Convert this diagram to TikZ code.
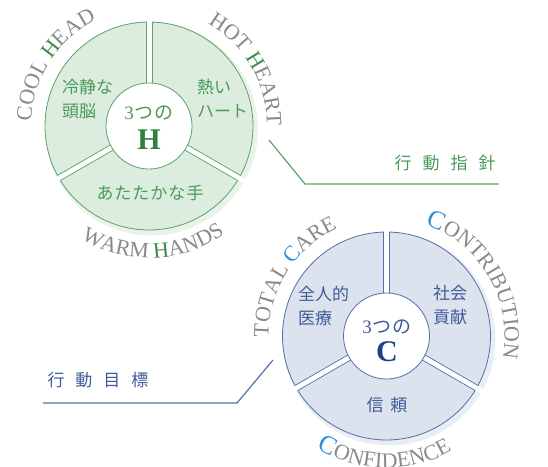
\documentclass[tikz,border=0pt]{standalone}
\usepackage{fontspec}
\setmainfont{Liberation Serif}
\newfontfamily\jp{Noto Sans CJK JP}
\usetikzlibrary{decorations.text,calc}
\definecolor{lgray}{HTML}{8A8A8A}
\definecolor{hgreen}{HTML}{3D8B4D}
\definecolor{gtxt}{HTML}{4A9A5A}
\definecolor{gfill}{HTML}{DCECDF}
\definecolor{gshadow}{HTML}{E9F3EB}
\definecolor{gline}{HTML}{5AA36A}
\definecolor{hbig}{HTML}{2F7F3F}
\definecolor{bfill}{HTML}{DDE3EE}
\definecolor{bshadow}{HTML}{E9EDF4}
\definecolor{bline}{HTML}{5470AA}
\definecolor{btxt}{HTML}{3E5C98}
\definecolor{cbig}{HTML}{1E428A}
\definecolor{ccyan}{HTML}{2A8FD8}
\newcommand\tgray{\fontsize{22}{22}\selectfont\color{lgray}}
\newcommand\tgreen{\fontsize{22}{22}\selectfont\color{hgreen}}
\newcommand\tcyan{\fontsize{22}{22}\selectfont\color{ccyan}}
\newcommand\tcyanbig{\fontsize{26}{26}\selectfont\color{ccyan}}
\newcommand\myring[4]{%
  \fill[#3] ($(#1)+(2.5,-3)$) circle (106.5);
  \fill[#2,draw=#4,line width=0.8] (#1) circle (104);
  \foreach \a in {90,210,330}{
    \begin{scope}[shift={(#1)},rotate=\a]
      \fill[white] (30,-2.5) rectangle (116,2.5);
      \draw[#4,line width=0.7] (40,2.9)--(103.95,2.9) (40,-2.9)--(103.95,-2.9);
    \end{scope}}
  \fill[white,draw=#4,line width=0.8] (#1) circle (43);
}
\tikzset{
  jplabel/.style={font=\jp\fontsize{17}{24}\selectfont, align=left, inner sep=0},
  leader/.style={line width=1.2},
  title/.style={font=\jp\fontsize{17}{17}\selectfont, inner sep=0},
}
\begin{document}
\begin{tikzpicture}[x=1pt,y=1pt]
\useasboundingbox (0,0) rectangle (548,466);
\coordinate (G) at (149,340);
\coordinate (B) at (386.5,130);

% green ring
\myring{G}{gfill}{gshadow}{gline}
\node[jplabel, text=gtxt, anchor=west] (gl) at (62,367) {冷静な\\頭脳};
\node[jplabel, text=gtxt, anchor=west] (gr) at (197,367) {熱い\\ハート};
\node[jplabel, text=gtxt] (gb) at (150,273) {あ\hspace{1pt}た\hspace{1pt}た\hspace{1pt}か\hspace{1pt}な\hspace{1pt}手};
\node[text=gtxt, inner sep=0] (g3) at (149,353) {\fontsize{19}{19}\selectfont 3\jp\hspace{1pt}つ\hspace{1pt}の};
\node[text=hbig, inner sep=0, font=\fontsize{30}{30}\selectfont\bfseries] (gH) at (149,326) {H};

\path[decorate,decoration={text along path,text align=center,
  text={|\tgray|COOL |\tgreen|H|\tgray|EAD}}]
  ($(G)+(197:118)$) arc[start angle=197,end angle=97,radius=118];
\path[decorate,decoration={text along path,text align=center,
  text={|\tgray|HOT |\tgreen|H|\tgray|EART}}]
  ($(G)+(80:118)$) arc[start angle=80,end angle=-20,radius=118];
\path[decorate,decoration={text along path,text align=center,
  text={|\tgray|WARM |\tgreen|H|\tgray|ANDS}}]
  ($(G)+(222:132)$) arc[start angle=222,end angle=322,radius=132];

% blue ring
\myring{B}{bfill}{bshadow}{bline}
\node[jplabel, text=btxt, anchor=west] (bl) at (298,160) {全人的\\医療};
\node[jplabel, text=btxt, anchor=west] (br) at (433,161) {社会\\貢献};
\node[jplabel, text=btxt] (bb) at (387,61) {信\hspace{7pt}頼};
\node[text=btxt, inner sep=0] (b3) at (387,139) {\fontsize{19}{19}\selectfont 3\jp\hspace{1pt}つ\hspace{1pt}の};
\node[text=cbig, inner sep=0, font=\fontsize{30}{30}\selectfont\bfseries] (bC) at (387,114) {C};

\path[decorate,decoration={text along path,text align=center,
  text={|\tgray|TOTAL |\tcyan|C|\tgray|ARE}}]
  ($(B)+(197:118)$) arc[start angle=197,end angle=98,radius=118];
\path[decorate,decoration={text along path,text align=center,
  text={|\tcyanbig|C|\tgray|ONTRIBUTION}}]
  ($(B)+(80:118)$) arc[start angle=80,end angle=-20,radius=118];
\path[decorate,decoration={text along path,text align=center,
  text={|\tcyanbig|C|\tgray|ONFIDENCE}}]
  ($(B)+(219:132)$) arc[start angle=219,end angle=319,radius=132];

% leaders
\coordinate (ga) at (269,326);
\coordinate (gb2) at (305,282);
\coordinate (gc) at (499,282);
\draw[leader, gline] (ga) -- (gb2) -- (gc);
\node[title, text=gtxt] (gt) at (445,303) {行\hspace{11pt}動\hspace{11pt}指\hspace{11pt}針};

\coordinate (ba) at (273,106);
\coordinate (bb2) at (237,63);
\coordinate (bc) at (43,63);
\draw[leader, bline] (ba) -- (bb2) -- (bc);
\node[title, text=btxt] (bt) at (98,86) {行\hspace{11pt}動\hspace{11pt}目\hspace{11pt}標};
\end{tikzpicture}
\end{document}
